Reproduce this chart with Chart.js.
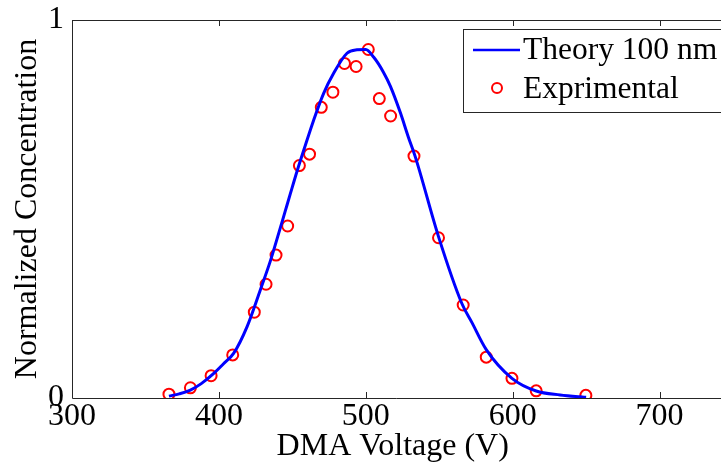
<!DOCTYPE html>
<html>
<head>
<meta charset="utf-8">
<script src="https://cdn.jsdelivr.net/npm/chart.js@4/dist/chart.umd.min.js"></script>
<style>
html,body{margin:0;padding:0;background:#fff;overflow:hidden;}
#wrap{width:721px;height:466px;position:relative;}
</style>
</head>
<body>
<div id="wrap"><canvas id="c" width="721" height="466"></canvas></div>
<script>
// ---- data ----
const theoryLabel = 'Theory 100 nm';
const expLabel = 'Exprimental';
const theoryX = [366, 373, 380.6, 388, 396.5, 403, 410, 419.2, 428.2, 435, 441.8, 445.2, 448.6, 453.2, 458.8, 464.5, 471.3, 478.1, 487.2, 494, 500, 505.3, 512, 516.7, 523.5, 529, 533.7, 549.5, 565.4, 572.2, 582, 599.5, 616, 632.3, 646, 650];
const theoryY = [0.005, 0.011, 0.021, 0.038, 0.065, 0.09, 0.118, 0.189, 0.286, 0.362, 0.45, 0.495, 0.54, 0.6, 0.668, 0.735, 0.806, 0.859, 0.912, 0.921, 0.922, 0.902, 0.862, 0.825, 0.755, 0.69, 0.638, 0.427, 0.25, 0.2, 0.128, 0.052, 0.0185, 0.008, 0.003, 0.002];
const expX = [366, 380.6, 394.7, 409.4, 424.1, 432.1, 438.9, 446.8, 454.8, 461.7, 469.7, 477.6, 485.5, 493.4, 501.7, 509.2, 516.9, 532.8, 549.5, 566.3, 582, 599.5, 616, 649.8];
const expY = [0.01, 0.027, 0.059, 0.114, 0.227, 0.301, 0.378, 0.455, 0.615, 0.645, 0.769, 0.809, 0.885, 0.877, 0.922, 0.792, 0.746, 0.640, 0.424, 0.246, 0.108, 0.052, 0.019, 0.007];
const xTicks = [300, 400, 500, 600, 700];
const yTicks = [0, 1];
const xTitle = 'DMA Voltage (V)';
const yTitle = 'Normalized Concentration';

const FONT = {family: '"Liberation Serif", "Times New Roman", serif', size: 32};
const AXIS_COLOR = '#262626';

const framePlugin = {
  id: 'frame',
  afterDraw(chart) {
    const ctx = chart.ctx;
    const a = chart.chartArea;
    const xs = chart.scales.x;
    const W = chart.width;
    ctx.save();
    ctx.strokeStyle = AXIS_COLOR;
    ctx.lineWidth = 1;
    ctx.beginPath();
    ctx.moveTo(a.left + 0.5, a.top + 0.5);
    ctx.lineTo(W, a.top + 0.5);
    ctx.moveTo(a.left + 0.5, a.top + 0.5);
    ctx.lineTo(a.left + 0.5, a.bottom + 0.5);
    ctx.lineTo(W, a.bottom + 0.5);
    xTicks.forEach(v => {
      const px = Math.round(xs.getPixelForValue(v)) + 0.5;
      ctx.moveTo(px, a.bottom);
      ctx.lineTo(px, a.bottom - 6);
      ctx.moveTo(px, a.top);
      ctx.lineTo(px, a.top + 6);
    });
    ctx.stroke();

    // legend box
    const bx = 463.5, by = 29.5, bw = 300, bh = 83;
    ctx.fillStyle = '#fff';
    ctx.fillRect(bx, by, bw, bh);
    ctx.strokeStyle = AXIS_COLOR;
    ctx.strokeRect(bx, by, bw, bh);
    const ds = chart.data.datasets;
    ctx.strokeStyle = ds[0].borderColor;
    ctx.lineWidth = 2.5;
    ctx.beginPath();
    ctx.moveTo(473, 50);
    ctx.lineTo(520, 50);
    ctx.stroke();
    ctx.strokeStyle = ds[1].borderColor;
    ctx.lineWidth = 2;
    ctx.beginPath();
    ctx.arc(497, 88, 5, 0, Math.PI * 2);
    ctx.stroke();
    ctx.fillStyle = '#000';
    ctx.font = '31.5px ' + FONT.family;
    ctx.textBaseline = 'middle';
    ctx.textAlign = 'left';
    ctx.fillText(ds[0].label, 523, 51);
    ctx.fillText(ds[1].label, 523, 90);
    ctx.restore();
  }
};

new Chart(document.getElementById('c'), {
  type: 'scatter',
  data: {
    datasets: [
      {
        label: theoryLabel,
        data: theoryX.map((x, i) => ({x: x, y: theoryY[i]})),
        showLine: true,
        borderColor: '#0000ff',
        backgroundColor: '#0000ff',
        borderWidth: 3,
        pointRadius: 0,
        cubicInterpolationMode: 'monotone'
      },
      {
        label: expLabel,
        data: expX.map((x, i) => ({x: x, y: expY[i]})),
        showLine: false,
        borderColor: '#ff0000',
        backgroundColor: 'rgba(0,0,0,0)',
        borderWidth: 2,
        pointRadius: 5.5,
        pointStyle: 'circle'
      }
    ]
  },
  options: {
    responsive: false,
    animation: false,
    layout: {padding: {top: 20, left: 0, right: 0, bottom: 0}},
    plugins: {legend: {display: false}, tooltip: {enabled: false}},
    scales: {
      x: {
        type: 'linear',
        min: 300,
        max: 736.7,
        afterBuildTicks: s => { s.ticks = xTicks.map(v => ({value: v})); },
        afterFit: s => { s.height = 68; s.paddingLeft = 0; s.paddingRight = 0; },
        grid: {display: false, drawTicks: false},
        border: {display: false},
        ticks: {font: FONT, color: '#000', padding: -1, maxRotation: 0, autoSkip: false},
        title: {display: true, text: xTitle, font: FONT, color: '#000', padding: {top: 0, bottom: 0}}
      },
      y: {
        type: 'linear',
        min: 0,
        max: 1,
        afterBuildTicks: s => { s.ticks = yTicks.map(v => ({value: v})); },
        afterFit: s => { s.width = 72; s.paddingTop = 0; s.paddingBottom = 0; },
        grid: {display: false, drawTicks: false},
        border: {display: false},
        ticks: {font: FONT, color: '#000', padding: 8},
        title: {display: true, text: yTitle, font: FONT, color: '#000', padding: {top: 8, bottom: 0}}
      }
    }
  },
  plugins: [framePlugin]
});
</script>
</body>
</html>
